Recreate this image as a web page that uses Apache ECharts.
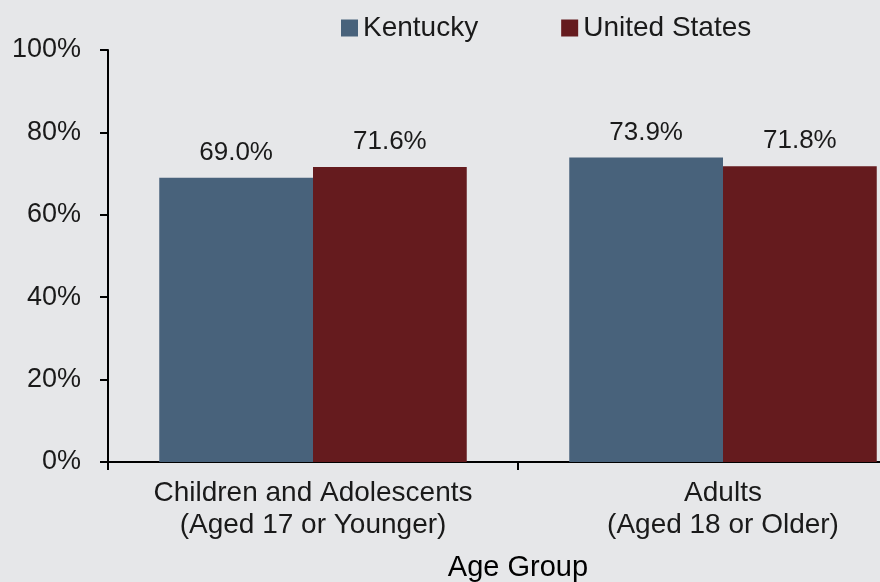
<!DOCTYPE html>
<html><head><meta charset="utf-8">
<script src="https://cdn.jsdelivr.net/npm/echarts@6/dist/echarts.min.js"></script>
<style>html,body{margin:0;padding:0;background:#e6e7e9;}#c{width:880px;height:582px;}</style>
</head><body><div id="c"></div>
<script>
const categories = ["Children and Adolescents\n(Aged 17 or Younger)", "Adults\n(Aged 18 or Older)"];
const seriesNames = ["Kentucky", "United States"];
const kentucky = [69.0, 73.9];
const unitedStates = [71.6, 71.8];
const yTicks = [0, 20, 40, 60, 80, 100];

const font = "'Liberation Sans', Arial, Helvetica, sans-serif";
const txt = '#1a1a1a';
const chart = echarts.init(document.getElementById('c'), null, {renderer: 'canvas'});
chart.setOption({
  backgroundColor: '#e6e7e9',
  animation: false,
  textStyle: {fontFamily: font},
  legend: {
    left: 336, top: 9,
    itemWidth: 17, itemHeight: 17, itemGap: 83,
    icon: 'rect',
    textStyle: {fontSize: 28, color: txt, fontFamily: font, padding: [0,0,0,0]},
    data: seriesNames
  },
  grid: {left: 108, top: 50, width: 820, height: 412, containLabel: false, outerBoundsMode: 'none'},
  xAxis: {
    type: 'category',
    data: categories,
    name: 'Age Group',
    nameLocation: 'middle',
    nameGap: 91,
    nameTextStyle: {fontSize: 29, color: '#000', fontFamily: font},
    axisLine: {lineStyle: {color: '#000', width: 2}},
    axisTick: {show: true, alignWithLabel: false, length: 8, lineStyle: {color: '#000', width: 2}},
    axisLabel: {fontSize: 28, color: txt, lineHeight: 32, margin: 15, interval: 0, fontFamily: font}
  },
  yAxis: {
    type: 'value',
    min: yTicks[0], max: yTicks[yTicks.length-1], interval: 20,
    axisLine: {show: true, lineStyle: {color: '#000', width: 2}},
    axisTick: {show: true, length: 8, inside: false, lineStyle: {color: '#000', width: 2}},
    splitLine: {show: false},
    axisLabel: {fontSize: 27, color: txt, margin: 27, formatter: v => v + '%', fontFamily: font}
  },
  series: [
    {name: seriesNames[0], type: 'bar', data: kentucky, barGap: '0%', barCategoryGap: '25%',
     itemStyle: {color: '#48627b'},
     label: {show: true, position: 'top', distance: 12, fontSize: 26, color: txt, formatter: p => p.value.toFixed(1) + '%', fontFamily: font}},
    {name: seriesNames[1], type: 'bar', data: unitedStates, barGap: '0%', barCategoryGap: '25%',
     itemStyle: {color: '#651b1e'},
     label: {show: true, position: 'top', distance: 12, fontSize: 26, color: txt, formatter: p => p.value.toFixed(1) + '%', fontFamily: font}}
  ]
});
</script></body></html>
